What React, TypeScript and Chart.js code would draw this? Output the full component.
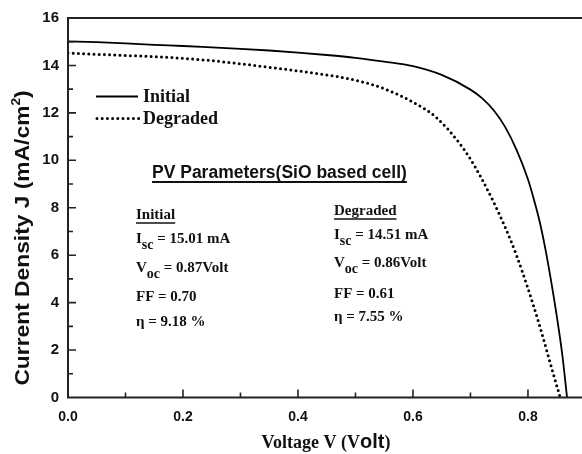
import React, { useEffect, useRef } from "react";
import { Chart, registerables } from "chart.js";

Chart.register(...registerables);

// ---------- data ----------
const initialV = [0, 0.05, 0.1, 0.15, 0.2, 0.25, 0.3, 0.35, 0.4, 0.45, 0.5, 0.55, 0.6, 0.65, 0.7, 0.72, 0.74, 0.76, 0.78, 0.8, 0.81, 0.82, 0.83, 0.84, 0.85, 0.86, 0.868];
const initialJ = [15.01, 14.98, 14.93, 14.87, 14.82, 14.76, 14.7, 14.63, 14.54, 14.44, 14.32, 14.16, 13.97, 13.6, 12.98, 12.62, 12.12, 11.42, 10.45, 9.2, 8.38, 7.45, 6.3, 4.95, 3.45, 1.75, 0];

const degradedV = [0, 0.05, 0.1, 0.15, 0.2, 0.25, 0.3, 0.35, 0.4, 0.45, 0.5, 0.55, 0.6, 0.64, 0.68, 0.7, 0.72, 0.74, 0.76, 0.78, 0.8, 0.82, 0.84, 0.856];
const degradedJ = [14.52, 14.47, 14.42, 14.37, 14.3, 14.2, 14.07, 13.92, 13.77, 13.6, 13.38, 13.02, 12.45, 11.82, 10.75, 10.05, 9.2, 8.25, 7.2, 6.0, 4.6, 3.05, 1.35, 0];

const xTickLabels = ["0.0", "0.2", "0.4", "0.6", "0.8"];
const yTickLabels = ["0", "2", "4", "6", "8", "10", "12", "14", "16"];

const seriesNames = ["Initial", "Degraded"];
const panelTitle = "PV Parameters(SiO based cell)";
const initialHeading = "Initial";
const degradedHeading = "Degraded";
// [main, subscript, rest]
const initialParams = [["I", "sc", " = 15.01 mA"], ["V", "oc", " = 0.87Volt"], ["FF = 0.70", "", ""], ["\u03B7 = 9.18 %", "", ""]];
const degradedParams = [["I", "sc", " = 14.51 mA"], ["V", "oc", " = 0.86Volt"], ["FF = 0.61", "", ""], ["\u03B7 = 7.55 %", "", ""]];

const SANS = "'Liberation Sans', Arial, sans-serif";
const SERIF = "'Liberation Serif', 'Times New Roman', serif";
const INK = "#111";

type Run = { text: string; font: string; dy?: number };

function runsWidth(ctx: CanvasRenderingContext2D, runs: Run[]) {
  let w = 0;
  for (const r of runs) {
    ctx.font = r.font;
    w += ctx.measureText(r.text).width;
  }
  return w;
}

function drawRuns(ctx: CanvasRenderingContext2D, runs: Run[], x: number, y: number) {
  let cx = x;
  for (const r of runs) {
    ctx.font = r.font;
    ctx.fillText(r.text, cx, y + (r.dy || 0));
    cx += ctx.measureText(r.text).width;
  }
  return cx - x;
}

const overlayPlugin = {
  id: "overlay",
  afterDraw(chart: any) {
    const ctx: CanvasRenderingContext2D = chart.ctx;
    const { left, right, top, bottom } = chart.chartArea;
    const xs = chart.scales.x;
    const ys = chart.scales.y;
    ctx.save();

    // frame
    ctx.strokeStyle = "#222";
    ctx.lineWidth = 2;
    ctx.beginPath();
    ctx.moveTo(left, top);
    ctx.lineTo(right + 2, top);
    ctx.moveTo(left, top - 1);
    ctx.lineTo(left, bottom);
    ctx.lineTo(right + 2, bottom);
    ctx.stroke();

    // inward ticks
    ctx.lineWidth = 1.6;
    ctx.beginPath();
    ys.ticks.forEach((t: any) => {
      const v = t.value;
      if (Math.abs(v - Math.round(v)) > 1e-6) return;
      if (v <= 0 || v >= 16) return;
      const major = Math.round(v) % 2 === 0;
      const y = ys.getPixelForValue(v);
      ctx.moveTo(left, y);
      ctx.lineTo(left + (major ? 8 : 5), y);
    });
    xs.ticks.forEach((t: any) => {
      const v = t.value;
      const k = Math.round(v * 10);
      if (Math.abs(v * 10 - k) > 1e-6 || k === 0) return;
      const major = k % 2 === 0;
      const x = xs.getPixelForValue(v);
      ctx.moveTo(x, bottom);
      ctx.lineTo(x, bottom - (major ? 8 : 5));
    });
    ctx.stroke();

    ctx.fillStyle = INK;
    ctx.textBaseline = "middle";
    ctx.textAlign = "left";

    // legend
    ctx.strokeStyle = "#000";
    ctx.lineWidth = 1.8;
    ctx.setLineDash([]);
    ctx.beginPath();
    ctx.moveTo(96, 96.5);
    ctx.lineTo(138, 96.5);
    ctx.stroke();
    ctx.lineWidth = 3;
    ctx.lineCap = "round";
    ctx.setLineDash([0, 5.2]);
    ctx.beginPath();
    ctx.moveTo(97, 118.5);
    ctx.lineTo(139, 118.5);
    ctx.stroke();
    ctx.setLineDash([]);
    ctx.lineCap = "butt";
    ctx.font = `bold 18px ${SERIF}`;
    ctx.fillText(seriesNames[0], 143, 97);
    ctx.fillText(seriesNames[1], 143, 119);

    // panel title
    ctx.font = `bold 17.5px ${SANS}`;
    const tw = ctx.measureText(panelTitle).width;
    ctx.fillText(panelTitle, 152, 173);
    ctx.strokeStyle = INK;
    ctx.lineWidth = 2;
    ctx.beginPath();
    ctx.moveTo(152, 182);
    ctx.lineTo(152 + tw, 182);
    ctx.stroke();

    // parameter columns
    const mainFont = `bold 15px ${SERIF}`;
    const subFont = `bold 14px ${SERIF}`;
    const drawColumn = (x: number, heading: string, headY: number, params: string[][], ys2: number[]) => {
      ctx.font = mainFont;
      ctx.fillText(heading, x, headY);
      const hw = ctx.measureText(heading).width;
      ctx.lineWidth = 1.3;
      ctx.beginPath();
      ctx.moveTo(x, headY + 8);
      ctx.lineTo(x + hw, headY + 8);
      ctx.stroke();
      params.forEach((p, i) => {
        const runs: Run[] = [{ text: p[0], font: mainFont }];
        if (p[1]) runs.push({ text: p[1], font: subFont, dy: 6 });
        if (p[2]) runs.push({ text: p[2], font: mainFont });
        drawRuns(ctx, runs, x, ys2[i]);
      });
    };
    drawColumn(136, initialHeading, 215, initialParams, [239, 268, 297, 322]);
    drawColumn(334, degradedHeading, 211, degradedParams, [235, 263, 294, 317]);

    // x axis title: "Voltage V (Volt)"
    const xRuns: Run[] = [
      { text: "Voltage V (V", font: `bold 18px ${SERIF}` },
      { text: "olt", font: `bold 20px ${SANS}` },
      { text: ")", font: `bold 18px ${SERIF}` },
    ];
    const xw = runsWidth(ctx, xRuns);
    ctx.textBaseline = "alphabetic";
    drawRuns(ctx, xRuns, (left + right) / 2 - xw / 2 + 1, 448);

    // y axis title
    const yRuns: Run[] = [
      { text: "Current Density J (mA/cm", font: `bold 20px ${SANS}` },
      { text: "2", font: `bold 12px ${SANS}`, dy: -9 },
      { text: ")", font: `bold 20px ${SANS}` },
    ];
    const yw = runsWidth(ctx, yRuns);
    ctx.translate(29, 238);
    ctx.rotate(-Math.PI / 2);
    ctx.scale(1.14, 1);
    drawRuns(ctx, yRuns, -yw / 2, 0);

    ctx.restore();
  },
};

export default function App() {
  const ref = useRef<HTMLCanvasElement | null>(null);

  useEffect(() => {
    if (!ref.current) return;
    const chart = new Chart(ref.current, {
      type: "line",
      data: {
        datasets: [
          {
            label: seriesNames[0],
            data: initialV.map((v, i) => ({ x: v, y: initialJ[i] })),
            borderColor: "#000",
            borderWidth: 1.8,
            pointRadius: 0,
            cubicInterpolationMode: "monotone",
            fill: false,
          },
          {
            label: seriesNames[1],
            data: degradedV.map((v, i) => ({ x: v, y: degradedJ[i] })),
            borderColor: "#000",
            borderWidth: 3,
            borderDash: [0, 5.2],
            borderCapStyle: "round",
            pointRadius: 0,
            cubicInterpolationMode: "monotone",
            fill: false,
          },
        ],
      },
      options: {
        animation: false,
        responsive: false,
        maintainAspectRatio: false,
        layout: { padding: { top: 17, right: 0, left: 0, bottom: 0 } },
        plugins: {
          legend: { display: false },
          tooltip: { enabled: false },
        },
        scales: {
          x: {
            type: "linear",
            min: 0,
            max: 0.894,
            grid: { display: false, drawTicks: false, tickLength: 0 },
            border: { display: false },
            ticks: {
              stepSize: 0.1,
              includeBounds: false,
              autoSkip: false,
              maxRotation: 0,
              padding: 11,
              color: INK,
              font: { family: SANS, size: 14, weight: "bold" },
              callback: (v: any) => {
                const n = Number(v);
                if (Math.abs(n * 10 - Math.round(n * 10)) > 1e-6) return "";
                const s = n.toFixed(1);
                return xTickLabels.includes(s) ? s : "";
              },
            },
            afterFit: (s: any) => {
              s.height = 56.5;
            },
          },
          y: {
            type: "linear",
            min: 0,
            max: 16,
            grid: { display: false, drawTicks: false, tickLength: 0 },
            border: { display: false },
            ticks: {
              stepSize: 1,
              autoSkip: false,
              padding: 9,
              color: INK,
              font: { family: SANS, size: 15, weight: "bold" },
              callback: (v: any) => {
                const s = String(v);
                return yTickLabels.includes(s) ? s : "";
              },
            },
            afterFit: (s: any) => {
              s.width = 68;
            },
          },
        },
      },
      plugins: [overlayPlugin],
    } as any);
    return () => chart.destroy();
  }, []);

  return (
    <div style={{ position: "fixed", left: 0, top: 0, width: 582, height: 454, background: "#fff" }}>
      <canvas ref={ref} width={582} height={454} style={{ display: "block", width: 582, height: 454 }} />
    </div>
  );
}
